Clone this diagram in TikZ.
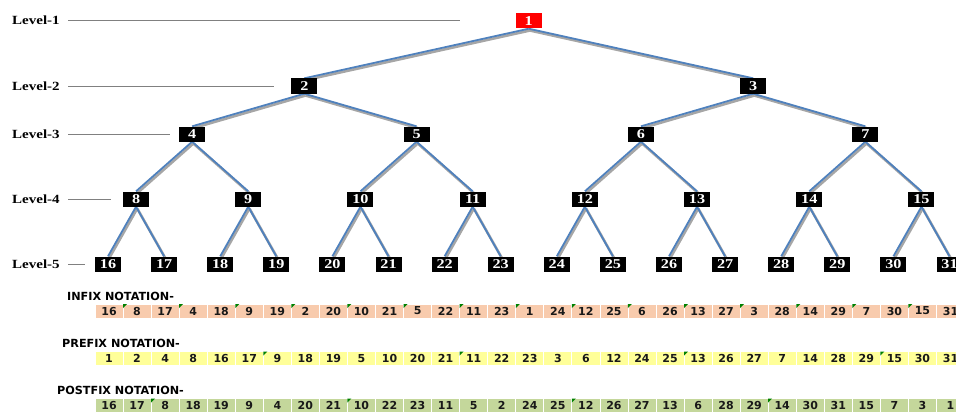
\documentclass[tikz,border=0pt]{standalone}
\usepackage{fontspec}
\usetikzlibrary{backgrounds}

\newfontfamily\treefont[FakeStretch=1.2]{Liberation Serif}
\newfontfamily\cellfont{DejaVu Sans}

\definecolor{edgeblue}{RGB}{79,129,189}
\definecolor{infixfill}{RGB}{248,203,173}
\definecolor{prefixfill}{RGB}{255,255,153}
\definecolor{postfixfill}{RGB}{196,215,155}
\definecolor{markgreen}{RGB}{0,128,0}

\tikzset{
  treenode/.style={fill=black, text=white, inner sep=1pt, minimum width=26, minimum height=15,
    font=\treefont\bfseries\fontsize{13.5}{14}\selectfont},
  levellabel/.style={anchor=west, inner sep=0pt, font=\treefont\bfseries\fontsize{12.5}{15}\selectfont},
  levelline/.style={draw=gray, line width=0.9pt},
  edgeshadow/.style={draw=gray!70, line width=2.6pt, transform canvas={xshift=1.2pt, yshift=-1.8pt}},
  edgeline/.style={draw=edgeblue, line width=1.8pt},
  notecell/.style={draw=white, line width=0.8pt, minimum width=28.05, minimum height=14, inner sep=0pt,
    text=black!90, font=\cellfont\bfseries\fontsize{11}{12}\selectfont},
  notehead/.style={anchor=west, inner sep=0pt, font=\cellfont\bfseries\fontsize{11.2}{12}\selectfont},
  cornermark/.style={fill=markgreen}
}

\begin{document}
\begin{tikzpicture}[x=1pt, y=-1pt]
\useasboundingbox (0,0) rectangle (956,412);
\clip (0,0) rectangle (956,412);

% level labels
\foreach \l/\yy/\xend in {1/20/460, 2/86/274, 3/134/170, 4/199/111, 5/264/85} {
  \node[levellabel] (lab\l) at (12,\yy) {Level-\l};
  \coordinate (lstart\l) at (68,\yy);
  \coordinate (lend\l) at (\xend,\yy);
  \draw[levelline] (lstart\l) -- (lend\l);
}

% tree
\node[treenode, fill=red] (n1) at (528.75,21) {1};
\foreach \yy/\first/\span in {86/2/8, 134/4/4, 199/8/2, 264/16/1} {
  \pgfmathtruncatemacro\last{2*\first-1}
  \foreach \k in {\first,...,\last} {
    \pgfmathsetmacro\xx{108+56.1*((\k-\first)*\span+(\span-1)/2)}
    \node[treenode] (n\k) at (\xx,\yy) {\k};
  }
}

\begin{scope}[on background layer]
  \foreach \k in {2,...,31} {
    \pgfmathtruncatemacro\p{\k/2}
    \draw[edgeshadow] (n\p.south) -- (n\k.north);
  }
  \foreach \k in {2,...,31} {
    \pgfmathtruncatemacro\p{\k/2}
    \draw[edgeline] (n\p.south) -- (n\k.north);
  }
\end{scope}

% notations
\node[notehead] (infixhead) at (67,296) {INFIX NOTATION-};
\foreach \v [count=\i] in {16,8,17,4,18,9,19,2,20,10,21,5,22,11,23,1,24,12,25,6,26,13,27,3,28,14,29,7,30,15,31}
  \node[notecell, fill=infixfill] (in\i) at ({95+28.05*(\i-0.5)},311) {\v};
\foreach \i in {2,4,...,30}
  \fill[cornermark] ([shift={(0.4,0.4)}]in\i.north west) -- ++(4,0) -- ++(-4,4) -- cycle;

\node[notehead] (prefixhead) at (62,343) {PREFIX NOTATION-};
\foreach \v [count=\i] in {1,2,4,8,16,17,9,18,19,5,10,20,21,11,22,23,3,6,12,24,25,13,26,27,7,14,28,29,15,30,31}
  \node[notecell, fill=prefixfill] (pre\i) at ({95+28.05*(\i-0.5)},358.5) {\v};
\foreach \i in {7,14,22,29}
  \fill[cornermark] ([shift={(0.4,0.4)}]pre\i.north west) -- ++(4,0) -- ++(-4,4) -- cycle;

\node[notehead] (postfixhead) at (57,390) {POSTFIX NOTATION-};
\foreach \v [count=\i] in {16,17,8,18,19,9,4,20,21,10,22,23,11,5,2,24,25,12,26,27,13,6,28,29,14,30,31,15,7,3,1}
  \node[notecell, fill=postfixfill] (post\i) at ({95+28.05*(\i-0.5)},405.5) {\v};
\foreach \i in {3,10,18,25}
  \fill[cornermark] ([shift={(0.4,0.4)}]post\i.north west) -- ++(4,0) -- ++(-4,4) -- cycle;
\end{tikzpicture}
\end{document}
